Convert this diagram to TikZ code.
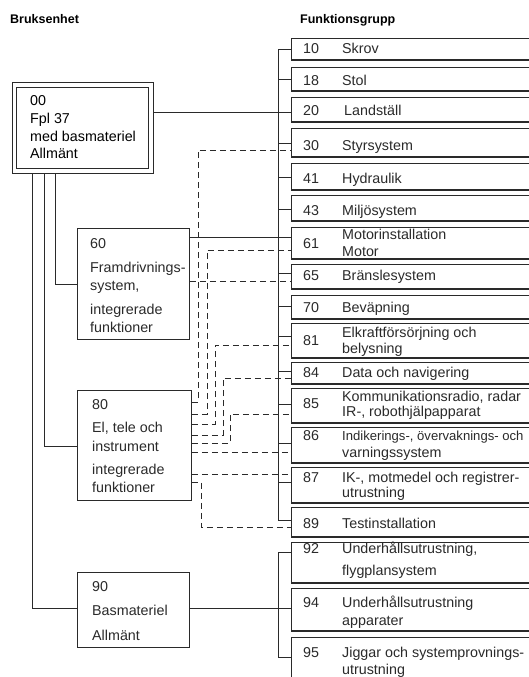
\documentclass[tikz,border=0pt]{standalone}
\usepackage{fontspec}
\setmainfont{Liberation Sans}
\definecolor{ink}{HTML}{2A2A2A}
\begin{document}
\begin{tikzpicture}[x=1pt,y=-1pt,
  fbox/.style={draw=ink,line width=0.8pt,anchor=north west,minimum width=254pt,inner sep=0pt},
  ubox/.style={draw=ink,line width=0.9pt,anchor=north west,inner sep=0pt},
  txt/.style={anchor=base west,inner sep=0pt,text=ink,font=\fontsize{14.3}{16}\selectfont},
  hdr/.style={anchor=base west,inner sep=0pt,text=black,font=\fontsize{12.5}{14}\selectfont\bfseries},
  sol/.style={draw=ink,line width=0.9pt},
  dsh/.style={draw=ink,line width=0.9pt,dash pattern=on 6pt off 4pt},
  shadowline/.style={draw=ink,line width=2pt}]
\useasboundingbox (0,0) rectangle (529,677);
\fill[white] (0,0) rectangle (529,677);
\clip (0,0) rectangle (529,677);

% headers
\node[hdr] (h1) at (10,24) {Bruksenhet};
\node[hdr] (h2) at (300,24) {Funktionsgrupp};

% right boxes
\foreach \n/\t/\b in {10/38/59,18/67/90,20/97/121,30/128/156,41/163/189,43/195/220,61/227/258,65/264/288,70/295/318,81/323/357,84/362/383,85/388/422,86/427/462,87/467/502,89/507/536,92/542/582,94/588/630,95/637/700}{
  \node[fbox,minimum height={(\b-\t)*1pt}] (b\n) at (291,\t) {};
  \draw[shadowline] (b\n.south west) -- (b\n.south east);
}

% right texts
\node[txt] (n10) at (303,53) {10};  \node[txt] (l10) at (342,53) {Skrov};
\node[txt] (n18) at (303,85) {18};  \node[txt] (l18) at (342,85) {Stol};
\node[txt] (n20) at (303,115) {20}; \node[txt] (l20) at (344,115) {Landställ};
\node[txt] (n30) at (303,150) {30}; \node[txt] (l30) at (342,150) {Styrsystem};
\node[txt] (n41) at (303,183) {41}; \node[txt] (l41) at (342,183) {Hydraulik};
\node[txt] (n43) at (303,215) {43}; \node[txt] (l43) at (342,215) {Miljösystem};
\node[txt] (n61) at (303,248) {61}; \node[txt] (l61a) at (342,239) {Motorinstallation};
\node[txt] (l61b) at (342,256) {Motor};
\node[txt] (n65) at (303,280) {65}; \node[txt] (l65) at (342,280) {Bränslesystem};
\node[txt] (n70) at (303,312) {70}; \node[txt] (l70) at (342,312) {Beväpning};
\node[txt] (n81) at (303,345) {81}; \node[txt] (l81a) at (342,337) {Elkraftförsörjning och};
\node[txt] (l81b) at (342,353) {belysning};
\node[txt] (n84) at (303,377) {84}; \node[txt] (l84) at (342,377) {Data och navigering};
\node[txt] (n85) at (303,408) {85}; \node[txt] (l85a) at (342,401) {Kommunikationsradio, radar};
\node[txt] (l85b) at (342,416) {IR-, robothjälpapparat};
\node[txt] (n86) at (303,440) {86}; \node[txt,font=\fontsize{13.1}{16}\selectfont] (l86a) at (342,440) {Indikerings-, övervaknings- och};
\node[txt] (l86b) at (342,457) {varningssystem};
\node[txt] (n87) at (303,482) {87}; \node[txt] (l87a) at (342,482) {IK-, motmedel och registrer-};
\node[txt] (l87b) at (342,497) {utrustning};
\node[txt] (n89) at (303,528) {89}; \node[txt] (l89) at (342,528) {Testinstallation};
\node[txt] (n92) at (303,553) {92}; \node[txt] (l92a) at (342,553) {Underhållsutrustning,};
\node[txt] (l92b) at (342,575) {flygplansystem};
\node[txt] (n94) at (303,607) {94}; \node[txt] (l94a) at (342,607) {Underhållsutrustning};
\node[txt] (l94b) at (342,625) {apparater};
\node[txt] (n95) at (303,657) {95}; \node[txt] (l95a) at (342,657) {Jiggar och systemprovnings-};
\node[txt] (l95b) at (342,674) {utrustning};

% left boxes
\node[ubox,minimum width=141pt,minimum height=91pt] (b00o) at (12,82) {};
\node[ubox,minimum width=132pt,minimum height=81pt] (b00i) at (16,87) {};
\node[ubox,minimum width=112pt,minimum height=111pt] (b60) at (77,228) {};
\node[ubox,minimum width=114pt,minimum height=110pt] (b80) at (77,390) {};
\node[ubox,minimum width=112pt,minimum height=75pt] (b90) at (77,572) {};

\node[txt,text=black] (t00a) at (30,105) {00};
\node[txt,text=black] (t00b) at (30,123) {Fpl 37};
\node[txt,text=black] (t00c) at (30,141) {med basmateriel};
\node[txt,text=black] (t00d) at (30,158) {Allmänt};
\node[txt] (t60a) at (90,248) {60};
\node[txt] (t60b) at (90,272) {Framdrivnings-};
\node[txt] (t60c) at (90,290) {system,};
\node[txt] (t60d) at (90,314) {integrerade};
\node[txt] (t60e) at (90,332) {funktioner};
\node[txt] (t80a) at (92,409) {80};
\node[txt] (t80b) at (92,432) {El, tele och};
\node[txt] (t80c) at (92,451) {instrument};
\node[txt] (t80d) at (92,474) {integrerade};
\node[txt] (t80e) at (92,492) {funktioner};
\node[txt] (t90a) at (92,591) {90};
\node[txt] (t90b) at (92,615) {Basmateriel};
\node[txt] (t90c) at (92,640) {Allmänt};

% main bus
\foreach \n/\y in {10/49,18/79,20/112,30/143,41/177,43/209,61/237,65/273,70/306,81/336,84/371,85/404,86/443,87/482,89/520}{\coordinate (tk\n) at (278,\y);}
\draw[sol] (tk10 -| b10.west) -- (tk10) -- (tk89) -- (tk89 -| b89.west);
\foreach \n in {18,20,30,41,43,61,65,70,81,84,85,86,87}{\draw[sol] (tk\n) -- (tk\n -| b\n.west);}
\draw[sol] (tk20 -| b00o.east) -- (tk20);
\draw[sol] (tk61 -| b60.east) -- (tk61);

% second bus
\coordinate (tk92) at (278,552);
\coordinate (tk94) at (278,608);
\coordinate (tk95) at (278,657);
\draw[sol] (tk92 -| b92.west) -- (tk92) -- (tk95) -- (tk95 -| b95.west);
\draw[sol] (tk94 -| b90.east) -- (tk94 -| b94.west);

% down lines from 00
\coordinate (c60) at (55,284);
\coordinate (c80) at (44,446);
\coordinate (c90) at (32,608);
\draw[sol] (c60 |- b00o.south) -- (c60) -- (c60 -| b60.west);
\draw[sol] (c80 |- b00o.south) -- (c80) -- (c80 -| b80.west);
\draw[sol] (c90 |- b00o.south) -- (c90) -- (c90 -| b90.west);

% dashed links
\coordinate (r65) at (240,281);
\draw[dsh] (r65 -| b60.east) -- (r65 -| b65.west);
\coordinate (r30) at (198,402); \coordinate (v30) at (198,150);
\draw[dsh] (r30 -| b80.east) -- (r30) -- (v30) -- (v30 -| b30.west);
\coordinate (r61) at (207,414); \coordinate (v61) at (207,250);
\draw[dsh] (r61 -| b80.east) -- (r61) -- (v61) -- (v61 -| b61.west);
\coordinate (r81) at (215,424); \coordinate (v81) at (215,345);
\draw[dsh] (r81 -| b80.east) -- (r81) -- (v81) -- (v81 -| b81.west);
\coordinate (r84) at (223,435); \coordinate (v84) at (223,378);
\draw[dsh] (r84 -| b80.east) -- (r84) -- (v84) -- (v84 -| b84.west);
\coordinate (r85) at (230,443); \coordinate (v85) at (230,414);
\draw[dsh] (r85 -| b80.east) -- (r85) -- (v85) -- (v85 -| b85.west);
\coordinate (r86) at (240,452);
\draw[dsh] (r86 -| b80.east) -- (r86 -| b86.west);
\coordinate (r87) at (240,474);
\draw[dsh] (r87 -| b80.east) -- (r87 -| b87.west);
\coordinate (r89) at (201,482); \coordinate (v89) at (201,527);
\draw[dsh] (r89 -| b80.east) -- (r89) -- (v89) -- (v89 -| b89.west);
\end{tikzpicture}
\end{document}
